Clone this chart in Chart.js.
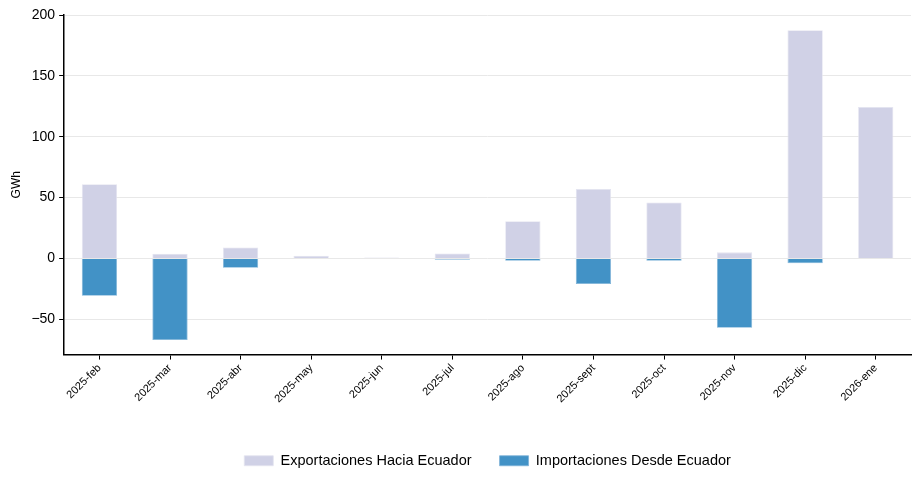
<!DOCTYPE html>
<html>
<head>
<meta charset="utf-8">
<script src="https://cdn.jsdelivr.net/npm/chart.js@4"></script>
<style>
  html, body { margin: 0; padding: 0; background: #fff; }
  #wrap { width: 921px; height: 484px; }
</style>
</head>
<body>
<div id="wrap"><canvas id="myChart"></canvas></div>
<script>
// months on the x axis
const months = ["2025-feb", "2025-mar", "2025-abr", "2025-may", "2025-jun", "2025-jul",
  "2025-ago", "2025-sept", "2025-oct", "2025-nov", "2025-dic", "2026-ene"];
// GWh
const exportaciones = [61, 3.8, 9, 2.2, 0.8, 4, 30.5, 57, 46, 5, 187.5, 124.5];
const importaciones = [-30.7, -67, -7.7, -0.5, -0.4, -1, -2, -21, -2, -57, -4, 0];
const yTicks = [-50, 0, 50, 100, 150, 200];

Chart.defaults.font.family = "'Liberation Sans', Arial, sans-serif";
Chart.defaults.color = "#000";

// center the legend under the plot area instead of the whole canvas
const legendUnderPlot = {
  id: "legendUnderPlot",
  afterLayout(chart) {
    chart.legend.left = chart.chartArea.left;
    chart.legend.right = chart.chartArea.right;
  }
};

new Chart("myChart", {
  type: "bar",
  data: {
    labels: months,
    datasets: [
      {
        label: "Exportaciones Hacia Ecuador",
        data: exportaciones,
        backgroundColor: "#d0d1e6",
        borderColor: "#e4e4f0",
        borderWidth: 0.8,
        barPercentage: 0.5,
        categoryPercentage: 1
      },
      {
        label: "Importaciones Desde Ecuador",
        data: importaciones,
        backgroundColor: "#4292c6",
        borderColor: "#7fb3d8",
        borderWidth: 0.8,
        barPercentage: 0.5,
        categoryPercentage: 1
      }
    ]
  },
  plugins: [legendUnderPlot],
  options: {
    responsive: true,
    maintainAspectRatio: false,
    animation: false,
    layout: { padding: { left: 5, right: 10, top: 15, bottom: 6 } },
    plugins: {
      legend: {
        position: "bottom",
        labels: {
          font: { size: 14.5 },
          boxWidth: 29,
          boxHeight: 10,
          padding: 28
        }
      },
      tooltip: { enabled: false }
    },
    scales: {
      x: {
        stacked: true,
        afterFit: (axis) => { axis.height += 18; },
        grid: { offset: false, drawOnChartArea: false, tickLength: 5, tickColor: "#000" },
        border: { color: "#000", width: 1.5 },
        ticks: { font: { size: 11 }, maxRotation: 45, minRotation: 45, padding: 2 }
      },
      y: {
        stacked: true,
        min: -79,
        max: 200,
        afterBuildTicks: (axis) => {
          axis.ticks = yTicks.map(v => ({ value: v }));
        },
        title: { display: true, text: "GWh", font: { size: 12 }, padding: 4 },
        grid: { color: "#e8e8e8", tickLength: 5, tickColor: "#000" },
        border: { color: "#000", width: 1.5 },
        ticks: {
          font: { size: 14 },
          padding: 4,
          callback: (v) => (v < 0 ? "\u2212" + Math.abs(v) : v)
        }
      }
    }
  }
});
</script>
</body>
</html>
